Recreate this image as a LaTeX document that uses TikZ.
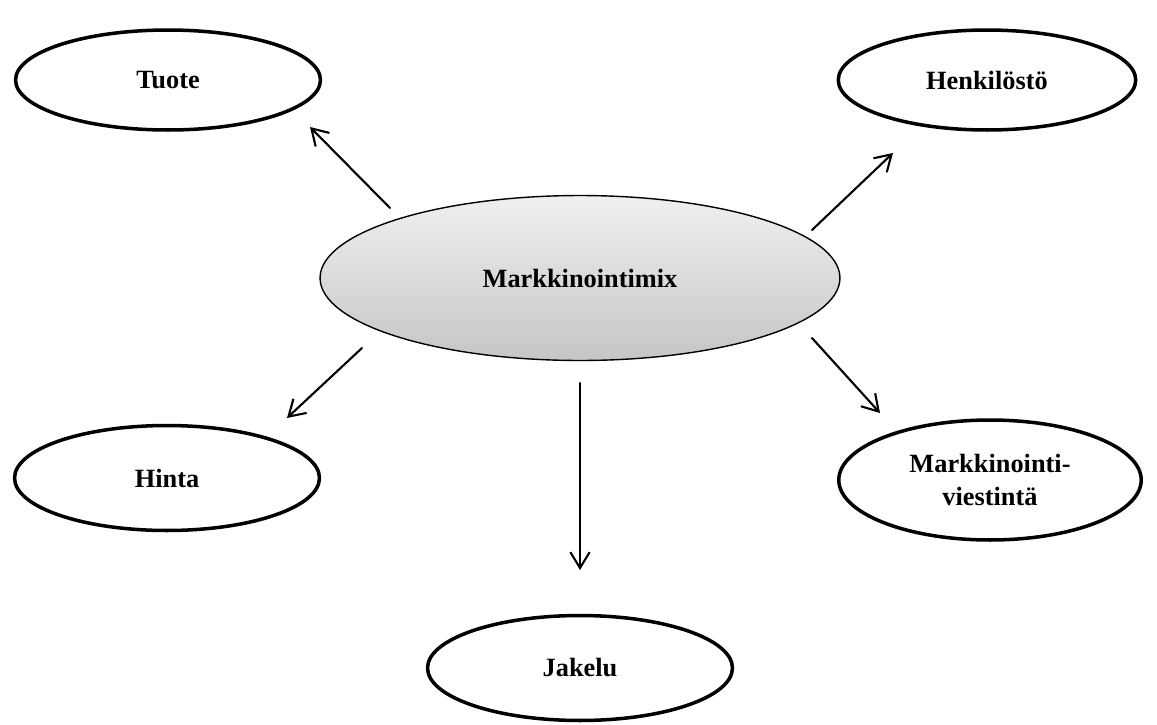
\documentclass[tikz,border=0pt]{standalone}
\usepackage{fontspec}
\setmainfont{Liberation Serif}
\usepackage{tikz}
\usetikzlibrary{shapes.geometric,arrows.meta}

\begin{document}
\begin{tikzpicture}[x=0.02cm, y=-0.02cm, font=\fontsize{15}{19}\selectfont\bfseries]
    \tikzstyle{part}=[ellipse,draw=black,line width=2pt,fill=white,inner sep=0pt,minimum width=6.1cm,minimum height=2cm,align=center]
    \tikzstyle{mix}=[ellipse,draw=black,line width=0.8pt,top color=gray!12,bottom color=gray!45,minimum width=10.4cm,minimum height=3.3cm]
    \tikzstyle{arrow}=[-{Straight Barb[length=9pt,width=11pt]},line width=1.2pt,line cap=round]

    \useasboundingbox (0,0) rectangle (1157,724);

    % Draw the centre node
    \node[mix] (M) at (580,278) {Markkinointimix};

    % Draw the five parts of the mix
    \node[part] (P-1) at (168,80) {Tuote};
    \node[part, minimum width=5.95cm] (P-2) at (987,80) {Henkilöstö};
    \node[part, minimum height=2.1cm] (P-3) at (167,478) {Hinta};
    \node[part, minimum width=6.05cm, minimum height=2.4cm] (P-4) at (990,480) {Markkinointi-\\viestintä};
    \node[part, minimum height=2.1cm] (P-5) at (580,668) {Jakelu};

    % Ends of the arrows
    \coordinate (S-1) at (390,208); \coordinate (E-1) at (310,127);
    \coordinate (S-2) at (812,230); \coordinate (E-2) at (893,153);
    \coordinate (S-3) at (362,348); \coordinate (E-3) at (287,418);
    \coordinate (S-4) at (812,338); \coordinate (E-4) at (880,413);
    \coordinate (S-5) at (580,383); \coordinate (E-5) at (580,570);

    % Arrows from the mix out to every part
    \foreach \n in {1,...,5}
        \draw[arrow] (S-\n) -- (E-\n);
\end{tikzpicture}
\end{document}
